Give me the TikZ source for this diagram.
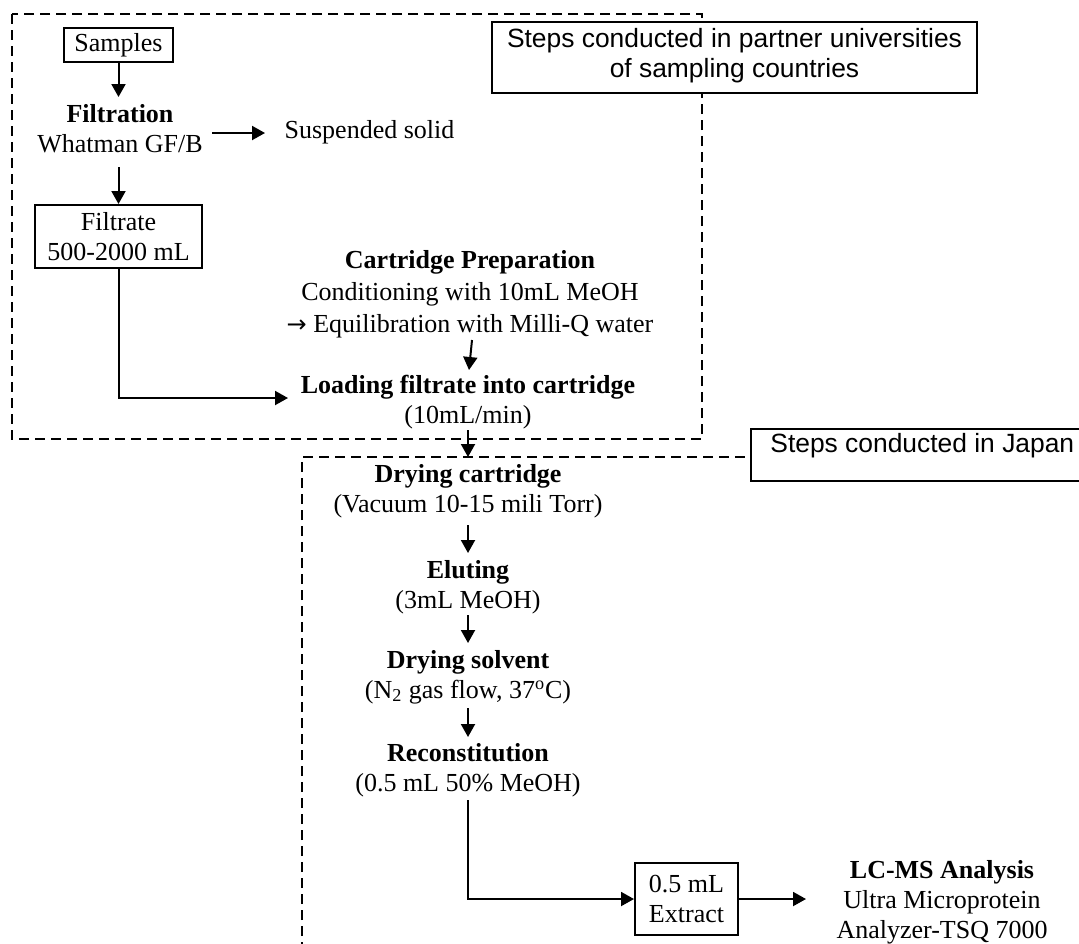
\documentclass[tikz,border=0pt]{standalone}
\usepackage{fontspec}
\setmainfont{Liberation Serif}
\newfontfamily\sansbox{Liberation Sans}
\newfontfamily\arrowfont{DejaVu Sans}
\usetikzlibrary{arrows.meta,calc}

\begin{document}
\begin{tikzpicture}[x=0.5pt,y=-0.5pt,
  txt/.style={font=\fontsize{13}{15}\selectfont, inner sep=0pt, align=center, anchor=base},
  boxed/.style={draw, line width=1pt, font=\fontsize{13}{15}\selectfont, align=center, inner sep=0pt},
  arr/.style={line width=1pt, -{Triangle[length=6.5pt,width=7pt]}},
  region/.style={line width=1.2pt, dash pattern=on 5pt off 3pt},
  tag/.style={draw, fill=white, line width=1pt, inner sep=0pt},
  tagtext/.style={font=\sansbox\fontsize{13.2}{15}\selectfont, align=center, anchor=base, inner sep=0pt}]

\clip (0,0) rectangle (1079,943);

% the two working areas
\draw[region] (12,14) rectangle (702,439);
\draw[region] (302,1000) -- (302,457) -- (1200,457);

% area labels (text anchored on the baseline of its last line)
\node[tag, minimum width=242.5pt, minimum height=35.5pt] (partnerbox) at (734.5,57.5) {};
\node[tagtext] (partner) at (734.5,77) {Steps conducted in partner universities\\of sampling countries};
\node[tag, anchor=north west, minimum width=170pt, minimum height=26pt] (japanbox) at (750,428) {};
\node[tagtext, anchor=base west] (japan) at (770,452) {Steps conducted in Japan};

% process steps
\node[boxed, minimum width=54.5pt, minimum height=17pt] (samples) at (118.5,45) {Samples};
\node[txt] (filt) at (120,152) {\textbf{Filtration}\\Whatman GF/B};
\node[txt] (susp) at (369.5,138) {Suspended solid};
\node[boxed, minimum width=83.5pt, minimum height=31.5pt] (filtrate) at (118.5,236.5) {Filtrate\\500-2000 mL};
\node[txt, font=\fontsize{13}{16}\selectfont] (prep) at (470,332) {\textbf{Cartridge Preparation}\\Conditioning with 10mL MeOH\\{\arrowfont\fontsize{12}{12}\selectfont →} Equilibration with Milli-Q water};
\node[txt] (load) at (468,423) {\textbf{Loading filtrate into cartridge}\\(10mL/min)};
\node[txt] (dry) at (468,512) {\textbf{Drying cartridge}\\(Vacuum 10-15 mili Torr)};
\node[txt] (elut) at (468,608) {\textbf{Eluting}\\(3mL MeOH)};
\node[txt] (dsolv) at (468,698) {\textbf{Drying solvent}\\(N\textsubscript{2} gas flow, 37\textsuperscript{o}C)};
\node[txt] (recon) at (468,791) {\textbf{Reconstitution}\\(0.5 mL 50\% MeOH)};
\node[boxed, minimum width=51.5pt, minimum height=36pt] (extract) at (686.5,899) {0.5 mL\\Extract};
\node[txt] (lcms) at (942,938) {\textbf{LC-MS Analysis}\\Ultra Microprotein\\Analyzer-TSQ 7000};

% connectors
\draw[arr] (samples.south) -- ($(filt.base)+(-1.5,-55)$);
\draw[arr] ($(filt.base)+(92,-19)$) -- ($(susp.base)+(-104.5,-5)$);
\draw[arr] ($(filt.base)+(-1.5,15)$) -- (filtrate.north);
\draw[arr] (filtrate.south) |- ($(load.base)+(-180,-25)$);
\draw[arr] ($(prep.base)+(2,8)$) -- ($(load.base)+(1,-53)$);
\draw[arr] ($(load.base)+(0,7)$) -- ($(dry.base)+(0,-55)$);
\draw[arr] ($(dry.base)+(0,13)$) -- ($(elut.base)+(0,-55)$);
\draw[arr] ($(elut.base)+(0,7)$) -- ($(dsolv.base)+(0,-55)$);
\draw[arr] ($(dsolv.base)+(0,10)$) -- ($(recon.base)+(0,-54)$);
\draw[arr] ($(recon.base)+(0,9)$) |- (extract.west);
\draw[arr] (extract.east) -- ($(lcms.base)+(-136,-39)$);
\end{tikzpicture}
\end{document}
